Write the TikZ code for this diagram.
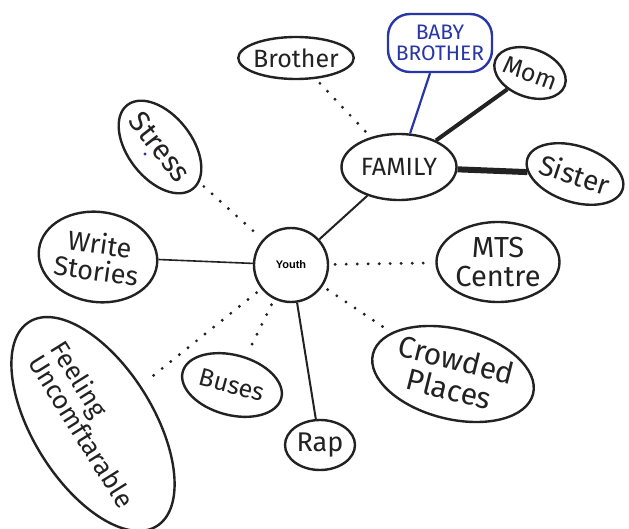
\documentclass[tikz,border=0pt]{standalone}
\usepackage{fontspec}
\setmainfont{Fira Sans}
\newfontfamily\typedfont{Liberation Sans}
\usetikzlibrary{shapes.geometric}
\definecolor{ink}{HTML}{222222}
\definecolor{blueink}{RGB}{40,55,165}
\begin{document}
\begin{tikzpicture}[x=1pt,y=-1pt,
  bubble/.style={draw=ink,line width=2.4pt,ellipse,inner sep=-2pt,text=ink,align=center},
  dotline/.style={draw=ink,line width=3.2pt,line cap=round,dash pattern=on 0pt off 11pt,shorten <=6pt,shorten >=6pt},
  solidline/.style={draw=ink,line width=2pt},
  fs/.style={font=\fontsize{#1}{#1}\selectfont},
]
\useasboundingbox (0,0) rectangle (629,529);
\fill[white] (0,0) rectangle (629,529);

% centre
\node[draw=ink,line width=2.4pt,circle,minimum size=74pt,inner sep=0pt,text=black] (youth) at (291,265) {\typedfont\bfseries\fontsize{11}{12}\selectfont Youth};

% family cluster
\node[bubble,minimum width=115pt,minimum height=66pt,fs=25] (family) at (399,167) {FAMILY};
\node[draw=blueink,line width=2.4pt,rounded corners=22pt,minimum width=104pt,minimum height=58pt,inner sep=0pt,text=blueink,align=center,font=\fontsize{21}{21}\selectfont] (baby) at (440,43) {BABY\\BROTHER};
\node[bubble,minimum width=74pt,minimum height=48pt,rotate=-20,fs=25] (mom) at (530,73) {Mom};
\node[bubble,minimum width=100pt,minimum height=56pt,rotate=-18,fs=28] (sister) at (575,174) {Sister};
\node[bubble,minimum width=115pt,minimum height=42pt,fs=25] (brothes) at (296,58) {Brother};

% left side
\node[bubble,minimum width=100pt,minimum height=64pt,rotate=-52,fs=29] (stress) at (160,147) {Stress};
\fill[blueink] (145,154) circle (1.6pt);
\node[bubble,minimum width=119pt,minimum height=90pt,rotate=-8,fs=27] (write) at (98,257) {Write\\Stories};
\node[bubble,minimum width=232pt,minimum height=120pt,rotate=-58,fs=26,align=left] (feel) at (93,424) {Feeling\\Uncomftarable};
\node[bubble,minimum width=102pt,minimum height=60pt,rotate=-15,fs=25] (buses) at (232,385) {Buses};
\node[bubble,minimum width=70pt,minimum height=50pt,fs=27] (rap) at (320,445) {Rap};

% right side
\node[bubble,minimum width=123pt,minimum height=80pt,fs=29] (mts) at (498,262) {MTS\\Centre};
\node[bubble,minimum width=165pt,minimum height=90pt,rotate=-14,fs=30] (crowd) at (453,374) {Crowded\\Places};

% connectors
\draw[draw=blueink,line width=2.2pt] (baby) -- (family);
\draw[draw=ink,line width=4pt] (family) -- (mom);
\draw[draw=ink,line width=6pt] (family) -- (sister);
\draw[dotline] (brothes) -- (family);
\draw[solidline] (family) -- (youth);
\draw[dotline] (stress) -- (youth);
\draw[solidline,line width=1.6pt] (write) -- (youth);
\draw[dotline] (youth) -- (mts);
\draw[dotline] (youth) -- (crowd);
\draw[solidline] (youth) -- (rap);
\draw[dotline] (youth) -- (buses);
\draw[dotline] (youth) -- (feel);
\end{tikzpicture}
\end{document}
